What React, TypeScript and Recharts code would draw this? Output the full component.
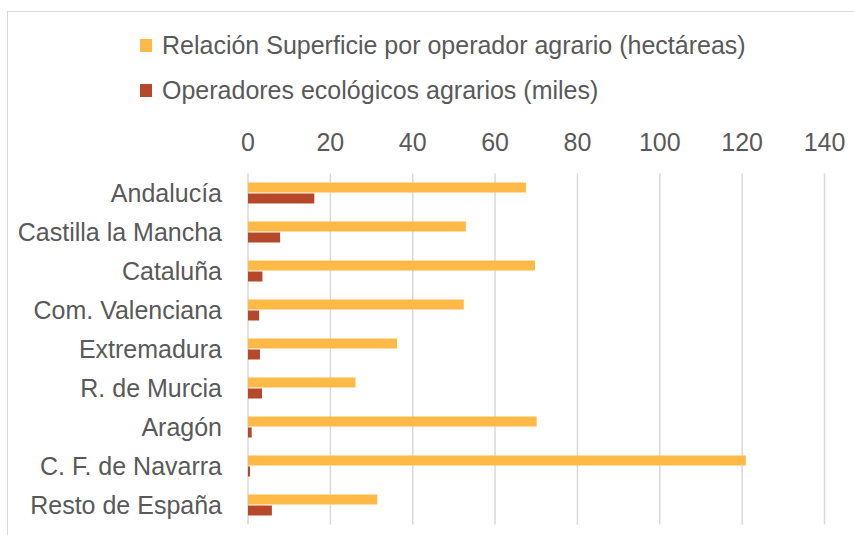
import { BarChart, Bar, XAxis, YAxis, CartesianGrid, Legend } from 'recharts'

const regions = [
  'Andalucía',
  'Castilla la Mancha',
  'Cataluña',
  'Com. Valenciana',
  'Extremadura',
  'R. de Murcia',
  'Aragón',
  'C. F. de Navarra',
  'Resto de España',
]
const superficie = [67.5, 52.9, 69.7, 52.4, 36.2, 26.1, 70.1, 120.9, 31.4]
const operadores = [16.1, 7.8, 3.5, 2.7, 2.9, 3.4, 0.9, 0.5, 5.8]
const xTicks = [0, 20, 40, 60, 80, 100, 120, 140]

const seriesNames = {
  superficie: 'Relación Superficie por operador agrario (hectáreas)',
  operadores: 'Operadores ecológicos agrarios (miles)',
}

const data = regions.map((region, i) => ({
  region,
  superficie: superficie[i],
  operadores: operadores[i],
}))

const font = '"Liberation Sans", Arial, sans-serif'
const textColor = '#595959'
const tickStyle = { fill: textColor, fontSize: 25, fontFamily: font }

function LegendBox() {
  const items = [
    { label: seriesNames.superficie, color: '#FFB947' },
    { label: seriesNames.operadores, color: '#B5482A' },
  ]
  return (
    <div style={{ fontFamily: font, fontSize: 25, color: textColor }}>
      {items.map(it => (
        <div key={it.label} style={{ display: 'flex', alignItems: 'center', height: 45 }}>
          <span style={{ width: 12, height: 13, background: it.color, marginRight: 10 }} />
          <span>{it.label}</span>
        </div>
      ))}
    </div>
  )
}

export default function App() {
  return (
    <div style={{ position: 'relative', width: 854, height: 535, overflow: 'hidden', background: '#fff' }}>
      <style>{'body{margin:0}'}</style>
      {/* chart frame */}
      <div style={{ position: 'absolute', left: 7, top: 11, width: 900, height: 600, border: '1px solid #d9d9d9' }} />
      <div style={{ position: 'absolute', left: 0, top: 0 }}>
        <BarChart
          width={854}
          height={535}
          data={data}
          layout="vertical"
          margin={{ top: 20, right: 29.5, bottom: 10.5, left: 8 }}
          barSize={10}
          barGap={1}
        >
          <CartesianGrid horizontal={false} stroke="#d9d9d9" strokeWidth={1.5} />
          <XAxis
            type="number"
            orientation="top"
            domain={[0, 140]}
            ticks={xTicks}
            height={63.5}
            axisLine={false}
            tickLine={false}
            tickSize={0}
            tickMargin={23}
            tick={tickStyle}
            interval={0}
          />
          <YAxis
            type="category"
            dataKey="region"
            width={240}
            axisLine={false}
            tickLine={false}
            tickSize={0}
            tickMargin={26}
            tick={tickStyle}
            interval={0}
          />
          <Legend
            layout="vertical"
            align="center"
            verticalAlign="top"
            content={() => <LegendBox />}
            wrapperStyle={{ position: 'absolute', top: 23, left: 140, width: 'auto' }}
          />
          <Bar dataKey="superficie" name={seriesNames.superficie} fill="#FFB947" isAnimationActive={false} />
          <Bar dataKey="operadores" name={seriesNames.operadores} fill="#B5482A" isAnimationActive={false} />
        </BarChart>
      </div>
    </div>
  )
}
